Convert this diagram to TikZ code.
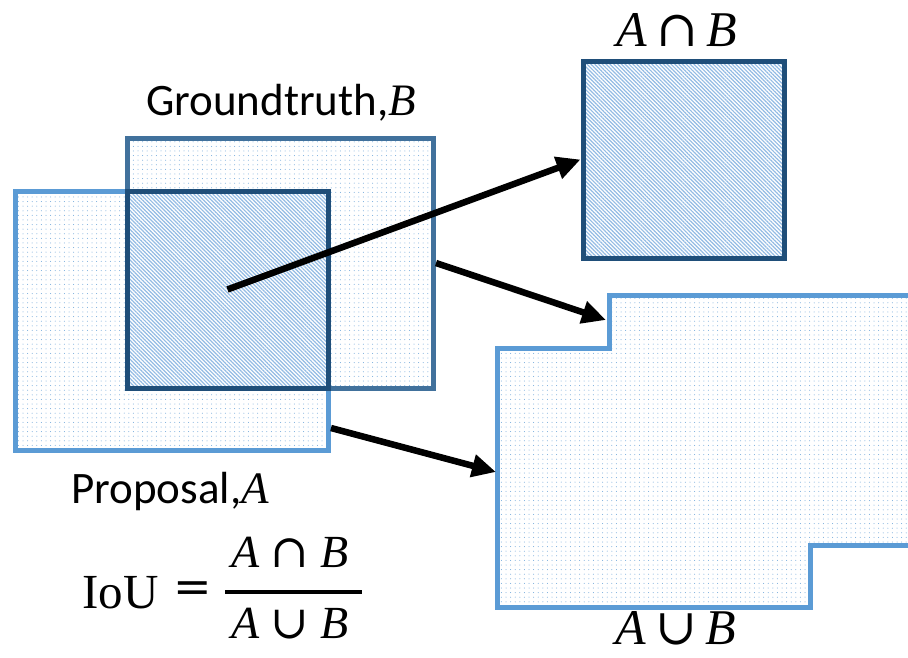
\documentclass[tikz,border=0pt]{standalone}
\usepackage{fontspec}
\setmainfont{Carlito}
\newfontfamily\serifm{Liberation Serif}
\newfontfamily\symf{DejaVu Serif}
\usetikzlibrary{patterns.meta,arrows.meta}
\definecolor{lblue}{HTML}{5B9BD5}
\definecolor{mblue}{HTML}{41719C}
\definecolor{dblue}{HTML}{1F4E79}
\definecolor{dotblue}{HTML}{6FA6DA}
\definecolor{hatchblue}{HTML}{93BBE4}
\newcommand{\mv}[1]{{\serifm\itshape #1}}
\newcommand{\capop}{{\symf\hspace{0.18em}∩\hspace{0.18em}}}
\newcommand{\cupop}{{\symf\hspace{0.18em}∪\hspace{0.18em}}}
\newcommand{\capopw}{{\symf\hspace{0.24em}∩\hspace{0.24em}}}
\newcommand{\cupopw}{{\symf\hspace{0.24em}∪\hspace{0.24em}}}
\tikzset{
  dotfill/.style={preaction={fill=white},pattern={Dots[distance=4.6pt,radius=0.5pt]},pattern color=dotblue},
  hatchfill/.style={preaction={fill=white},pattern={Lines[angle=-45,distance=2.7pt,line width=1.2pt]},pattern color=hatchblue},
  boxA/.style={draw=lblue,line width=5pt,dotfill,inner sep=0pt},
  boxB/.style={draw=mblue,line width=5pt,dotfill,inner sep=0pt},
  boxI/.style={draw=dblue,line width=5pt,hatchfill,inner sep=0pt},
  arr/.style={line width=6.5pt,-{Triangle[length=24pt,width=22pt]}},
  lbl/.style={font=\fontsize{45}{54}\selectfont,inner sep=0pt,anchor=base},
  mlbl/.style={font=\fontsize{50}{60}\selectfont,inner sep=0pt,anchor=base},
  flbl/.style={font=\fontsize{46}{54}\selectfont,inner sep=0pt,anchor=base},
}
\begin{document}
\begin{tikzpicture}[x=1pt,y=-1pt]
\clip (0,0) rectangle (908,657);
\fill[white] (0,0) rectangle (908,657);
% proposal A, groundtruth B, intersection
\node[boxA,minimum width=313pt,minimum height=259pt] (A) at (171.5,320.5) {};
\node[boxB,minimum width=306.5pt,minimum height=250pt] (B) at (280.25,263) {};
\node[boxI,minimum width=201pt,minimum height=197pt] (I) at (227.5,289.5) {};
% intersection result
\node[boxI,minimum width=201pt,minimum height=197pt] (I2) at (683.5,159.5) {};
% union result
\draw[draw=lblue,line width=5pt,dotfill] (497,348) -- (609,348) -- (609,295) -- (920,295) -- (920,545) -- (810,545) -- (810,607) -- (497,607) -- cycle;
\coordinate (Ustep) at (606,320);
\coordinate (Uleft) at (496,472);
\coordinate (Aout) at (331,428);
% arrows
\draw[arr] (I.center) -- (I2.west);
\draw[arr] (B.east) -- (Ustep);
\draw[arr] (Aout) -- (Uleft);
% labels
\node[lbl] (lblB) at (281,115) {Groundtruth,\mv{B}};
\node[lbl] (lblA) at (170,503) {Proposal,\mv{A}};
\node[mlbl] (lblI) at (677,46) {\mv{A}\capop\mv{B}};
\node[mlbl] (lblU) at (676,644) {\mv{A}\cupop\mv{B}};
% IoU formula
\node[font=\fontsize{49}{60}\selectfont,inner sep=0pt,anchor=base west] (iou) at (82,608) {\serifm IoU};
\node[font=\fontsize{46}{52}\selectfont,inner sep=0pt] (eq) at (193,592) {\symf =};
\node[flbl] (num) at (290,567) {\mv{A}\capopw\mv{B}};
\node[flbl] (den) at (290,638) {\mv{A}\cupopw\mv{B}};
\coordinate (barL) at (225,592);
\coordinate (barR) at (362,592);
\draw[line width=3.3pt] (barL) -- (barR);
\end{tikzpicture}
\end{document}
